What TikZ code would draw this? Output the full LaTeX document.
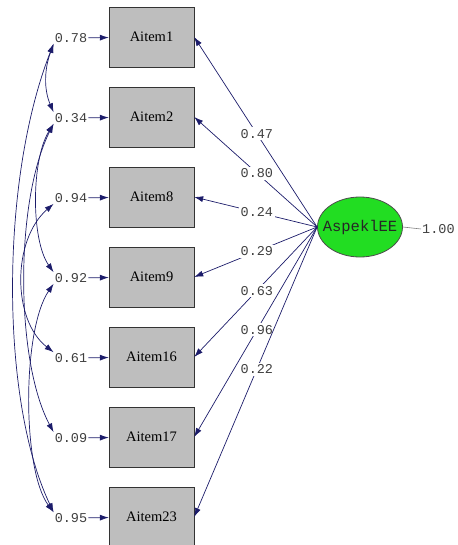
\documentclass[tikz,border=0pt]{standalone}
\usepackage{fontspec}
\setmainfont{Liberation Serif}
\setmonofont{Liberation Mono}
\usetikzlibrary{arrows.meta,shapes.geometric}
\definecolor{pathblue}{HTML}{1C1C6A}
\definecolor{latentgreen}{HTML}{22DD22}
\definecolor{itemgray}{HTML}{BEBEBE}
\begin{document}
\begin{tikzpicture}[x=1pt,y=-1pt,
    item/.style={draw=black!80,fill=itemgray,minimum width=85pt,minimum height=60pt,
      inner sep=0pt,font=\fontsize{14.5}{14.5}\selectfont},
    errval/.style={font=\ttfamily\fontsize{13.5}{13.5}\selectfont,text=black!75,inner sep=1pt},
    loadval/.style={errval,fill=white,inner sep=2pt},
    arr/.style={pathblue,line width=0.7pt,-{Latex[length=9pt,width=6pt]}},
    corr/.style={pathblue,line width=0.7pt,{Latex[length=9pt,width=6pt]}-{Latex[length=9pt,width=6pt]}}]
  \useasboundingbox (0,0) rectangle (457,545);
  % latent variable
  \node [ellipse,draw=black!70,line width=0.8pt,fill=latentgreen,minimum width=85pt,
    minimum height=60pt,inner sep=0pt] (lat) at (360,227) {};
  \node [font=\ttfamily\fontsize{15.5}{15.5}\selectfont,text=black!85,inner sep=0pt] (latname) at (lat) {AspeklEE};
  \node [errval,anchor=west] (var) at (421,229) {1.00};
  \draw [black!50,line width=0.6pt] (lat.east) -- (var.west);
  % items, errors and loadings
  \foreach \n/\e/\l [count=\k] in {1/0.78/0.47, 2/0.34/0.80, 8/0.94/0.24, 9/0.92/0.29,
      16/0.61/0.63, 17/0.09/0.96, 23/0.95/0.22} {
    \node [item] (i\k) at (151.5,{37+80*(\k-1)}) {Aitem\n};
    \node [errval] (e\k) at (71,{38+80*(\k-1)}) {\e};
    \draw [arr] (e\k) -- (i\k);
    \draw [arr] (lat.west) -- node [loadval,pos=0.49] (l\k) {\l} (i\k.east);
  }
  % correlated errors
  \draw [corr] (e1.south west) .. controls (44,70) and (44,90) .. (e2.north west);
  \draw [corr] (e1.south west) .. controls (0,180) and (0,400) .. (e7.north west);
  \draw [corr] (e2.south west) .. controls (31,160) and (31,240) .. (e4.north west);
  \draw [corr] (e2.south west) .. controls (15,200) and (15,360) .. (e6.north west);
  \draw [corr] (e3.south west) .. controls (12,240) and (12,320) .. (e5.north west);
  \draw [corr] (e4.south west) .. controls (22,330) and (22,470) .. (e7.north west);
\end{tikzpicture}
\end{document}
